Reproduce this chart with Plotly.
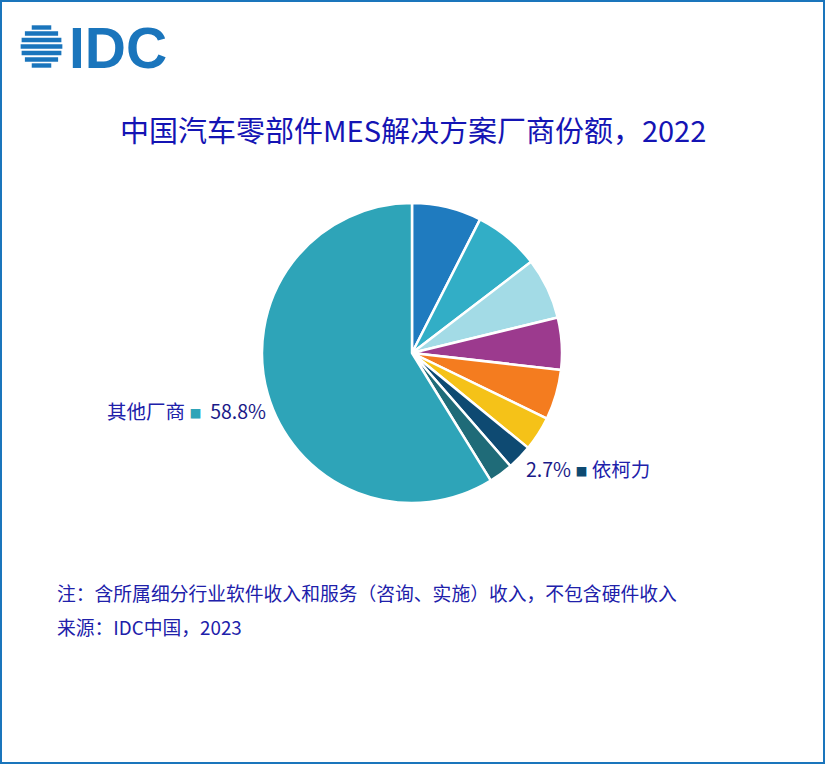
import numpy as np
import plotly.graph_objects as go

W, H = 826, 765

vendors = ["厂商A", "厂商B", "厂商C", "厂商D", "厂商E", "厂商F", "依柯力", "厂商G", "其他厂商"]
shares = [7.5, 7.1, 6.6, 5.6, 5.4, 3.7, 2.7, 2.6, 58.8]
slice_colors = ["#1f7bbf", "#32aec6", "#a3dbe6", "#9c3a8e", "#f47c1f",
                "#f5c218", "#0e4a72", "#1f6b78", "#2ea4b8"]

title_text = "中国汽车零部件MES解决方案厂商份额，2022"
note_text = "注：含所属细分行业软件收入和服务（咨询、实施）收入，不包含硬件收入"
source_text = "来源：IDC中国，2023"

FONT = "Noto Sans CJK SC, Microsoft YaHei, sans-serif"
TITLE_TXT = "#1414b4"
BLUE_TXT = "#2020aa"
NAVY_TXT = "#1a1a88"


def px(x):
    return x / W


def py(y):
    return 1 - y / H


cx, cy, r = 412, 353, 150

fig = go.Figure()
fig.add_trace(go.Pie(
    labels=vendors,
    values=shares,
    sort=False,
    direction="clockwise",
    rotation=0,
    marker=dict(colors=slice_colors, line=dict(color="white", width=2.5)),
    textinfo="none",
    showlegend=False,
    domain=dict(x=[px(cx - r), px(cx + r)], y=[py(cy + r), py(cy - r)]),
))

shapes = []
# outer frame
shapes.append(dict(type="rect", xref="paper", yref="paper",
                   x0=px(1), x1=px(824), y0=py(763), y1=py(1),
                   line=dict(color="#1a75bc", width=2), fillcolor="rgba(0,0,0,0)"))
# IDC globe stripes
gcx, gcy, gr = 41.5, 46.5, 21.5
for yc in [27.5, 33.5, 40, 46.5, 53, 59.5, 65.5]:
    d = abs(yc - gcy)
    half = np.sqrt(max(gr ** 2 - d ** 2, 0)) * 0.97
    shapes.append(dict(type="rect", xref="paper", yref="paper",
                       x0=px(gcx - half), x1=px(gcx + half),
                       y0=py(yc + 2.2), y1=py(yc - 2.2),
                       line=dict(width=0), fillcolor="#1a75bc"))

annotations = [
    dict(text="IDC", x=px(67), y=py(48), xref="paper", yref="paper",
         xanchor="left", yanchor="middle", showarrow=False,
         font=dict(family="Liberation Sans, Arial", size=57, color="#1a75bc", weight="bold")),
    dict(text=title_text, x=px(413), y=py(129), xref="paper", yref="paper",
         xanchor="center", yanchor="middle", showarrow=False,
         font=dict(family=FONT, size=29, color=TITLE_TXT)),
    dict(text=("其他厂商 <span style='color:%s;font-size:12px'>■</span>&nbsp;&nbsp;"
               "<span style='color:%s'>%.1f%%</span>") % (slice_colors[8], NAVY_TXT, shares[8]),
         x=px(268), y=py(410), xref="paper", yref="paper",
         xanchor="right", yanchor="middle", showarrow=False,
         font=dict(family=FONT, size=19.5, color=BLUE_TXT)),
    dict(text=("<span style='color:%s'>%.1f%%</span> <span style='color:%s;font-size:12px'>■</span> 依柯力")
         % (NAVY_TXT, shares[6], slice_colors[6]),
         x=px(524), y=py(468), xref="paper", yref="paper",
         xanchor="left", yanchor="middle", showarrow=False,
         font=dict(family=FONT, size=19.5, color=BLUE_TXT)),
    dict(text=note_text, x=px(55), y=py(592), xref="paper", yref="paper",
         xanchor="left", yanchor="middle", showarrow=False,
         font=dict(family=FONT, size=18.8, color=BLUE_TXT)),
    dict(text=source_text, x=px(55), y=py(626), xref="paper", yref="paper",
         xanchor="left", yanchor="middle", showarrow=False,
         font=dict(family=FONT, size=18.8, color=BLUE_TXT)),
]

fig.update_layout(
    width=W, height=H,
    margin=dict(l=0, r=0, t=0, b=0),
    paper_bgcolor="white", plot_bgcolor="white",
    shapes=shapes, annotations=annotations,
)

fig.write_html("out.html",
               config={"displayModeBar": False},
               post_script="document.body.style.margin='0';document.body.style.overflow='hidden';")
